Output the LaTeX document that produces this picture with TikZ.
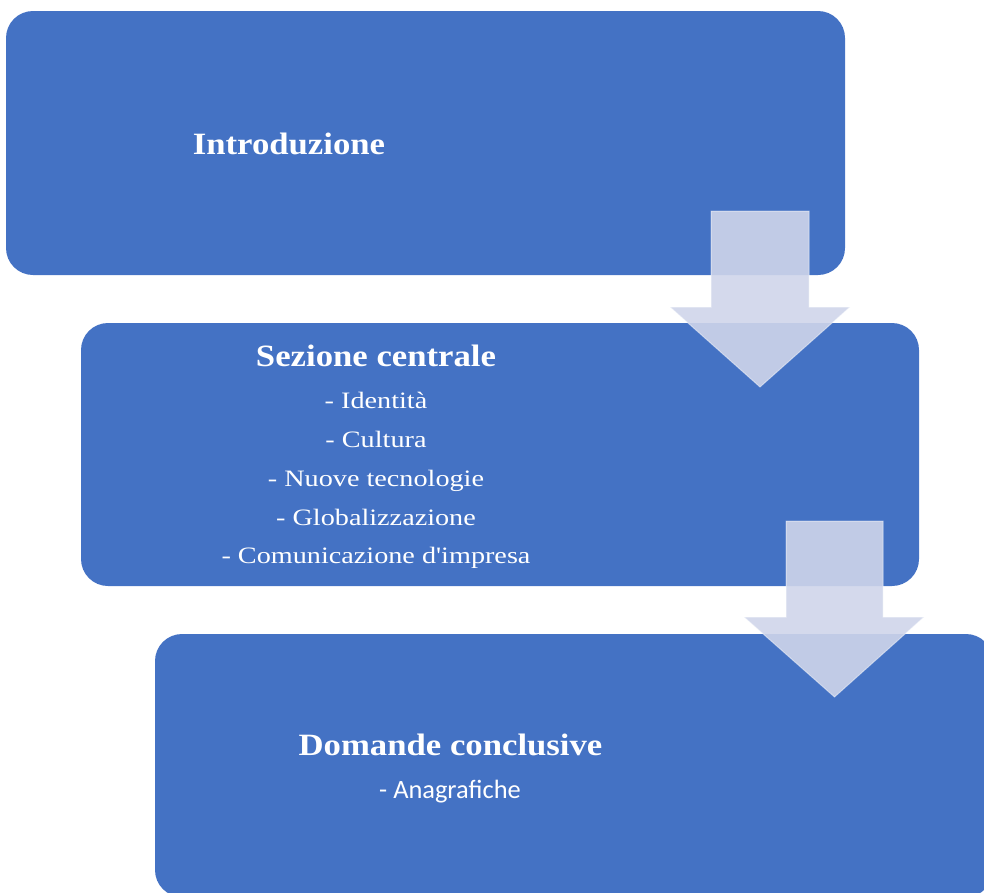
\documentclass[tikz,border=0pt]{standalone}
\usepackage{fontspec}
\setmainfont{Liberation Serif}
\newfontfamily\titlefont[FakeStretch=1.12]{Liberation Serif}
\newfontfamily\itemfont[FakeStretch=1.2]{Liberation Serif}
\newfontfamily\calfont{Carlito}
\definecolor{boxblue}{RGB}{68,114,196}
\definecolor{arrowfill}{RGB}{207,213,234}
\tikzset{
  box/.style={fill=boxblue, draw=none, rounded corners=27pt, inner sep=0pt},
  bigarrow/.style={fill=arrowfill, fill opacity=0.9, draw=white, draw opacity=0.45, line width=1pt},
  titletext/.style={text=white, font=\titlefont\bfseries\fontsize{31}{36}\selectfont, anchor=base, inner sep=0pt},
  itemtext/.style={text=white, font=\itemfont\fontsize{23.5}{28}\selectfont, anchor=base, inner sep=0pt},
  caltext/.style={text=white, font=\calfont\fontsize{26.4}{30}\selectfont, anchor=base, inner sep=0pt}
}
\begin{document}
\begin{tikzpicture}[x=1pt,y=-1pt]
\useasboundingbox (0,0) rectangle (984,892);
\begin{scope}
\clip (0,0) rectangle (984,892);
\node[box, minimum width=839pt, minimum height=264pt] (b1) at (425.5,143) {};
\node[box, minimum width=838pt, minimum height=263pt] (b2) at (500,454.5) {};
\node[box, minimum width=838pt, minimum height=263pt] (b3) at (574,765.5) {};

\node[titletext] (t1) at (289,154) {Introduzione};

\node[titletext] (t2) at (376,366) {Sezione centrale};
\node[itemtext] (i1) at (376,408) {- Identità};
\node[itemtext] (i2) at (376,447) {- Cultura};
\node[itemtext] (i3) at (376,486) {- Nuove tecnologie};
\node[itemtext] (i4) at (376,525) {- Globalizzazione};
\node[itemtext] (i5) at (376,563) {- Comunicazione d'impresa};

\node[titletext] (t3) at (450.5,755) {Domande conclusive};
\node[caltext] (i6) at (450,798) {- Anagrafiche};

\draw[bigarrow] (711,211) -- (809,211) -- (809,307) -- (850,307) -- (760,387) -- (670,307) -- (711,307) -- cycle;
\draw[bigarrow] (786,521) -- (883,521) -- (883,617) -- (924,617) -- (834.5,697) -- (744,617) -- (786,617) -- cycle;
\end{scope}
\end{tikzpicture}
\end{document}
